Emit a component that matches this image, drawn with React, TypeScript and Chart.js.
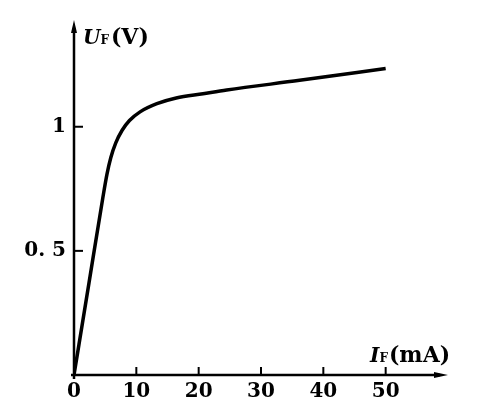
import React, { useEffect, useRef } from "react";
import { Chart, registerables } from "chart.js";

Chart.register(...registerables);

// Forward current I_F (mA) and forward voltage U_F (V)
const currentMA = [0, 2.4, 4.6, 5.3, 5.9, 6.7, 7.7, 8.9, 10.6, 13.3, 16.4, 20.7, 24.5, 36.2, 50];
const voltageV = [0, 0.37, 0.71, 0.81, 0.875, 0.935, 0.985, 1.025, 1.06, 1.093, 1.116, 1.133, 1.148, 1.187, 1.235];

const xTickValues = [0, 10, 20, 30, 40, 50];
const yTickValues = [0.5, 1];
const yTickLabels = ["0. 5", "1"];

const SERIF = '"DejaVu Serif", "Liberation Serif", serif';

const axesPlugin = {
  id: "customAxes",
  afterDraw(chart: any) {
    const ctx = chart.ctx;
    const xs = chart.scales.x;
    const ys = chart.scales.y;
    const x0 = xs.getPixelForValue(0);
    const y0 = ys.getPixelForValue(0);
    const xEnd = chart.chartArea.right;
    const yTop = chart.chartArea.top;
    ctx.save();
    ctx.strokeStyle = "#000";
    ctx.fillStyle = "#000";
    ctx.lineWidth = 2.5;
    ctx.lineCap = "butt";
    // y axis
    ctx.beginPath();
    ctx.moveTo(x0, y0 + 4);
    ctx.lineTo(x0, yTop + 8);
    ctx.stroke();
    ctx.beginPath();
    ctx.moveTo(x0, yTop);
    ctx.lineTo(x0 - 3, yTop + 13);
    ctx.lineTo(x0 + 3, yTop + 13);
    ctx.closePath();
    ctx.fill();
    // x axis
    ctx.beginPath();
    ctx.moveTo(x0 - 3, y0);
    ctx.lineTo(xEnd - 8, y0);
    ctx.stroke();
    ctx.beginPath();
    ctx.moveTo(xEnd, y0);
    ctx.lineTo(xEnd - 14, y0 - 3);
    ctx.lineTo(xEnd - 14, y0 + 3);
    ctx.closePath();
    ctx.fill();
    // ticks
    ctx.lineWidth = 2;
    xTickValues.forEach((v) => {
      if (v === 0) return;
      const px = xs.getPixelForValue(v);
      ctx.beginPath();
      ctx.moveTo(px, y0);
      ctx.lineTo(px, y0 - 8);
      ctx.stroke();
    });
    yTickValues.forEach((v) => {
      const py = ys.getPixelForValue(v);
      ctx.beginPath();
      ctx.moveTo(x0, py);
      ctx.lineTo(x0 + 9, py);
      ctx.stroke();
    });
    // axis titles
    ctx.textBaseline = "alphabetic";
    ctx.textAlign = "left";
    let bx = x0 + 9;
    let by = yTop + 24;
    ctx.font = `italic bold 20px ${SERIF}`;
    ctx.fillText("U", bx, by);
    bx += ctx.measureText("U").width;
    ctx.font = `bold 12px ${SERIF}`;
    ctx.fillText("F", bx, by);
    bx += ctx.measureText("F").width + 2;
    ctx.font = `bold 22px ${SERIF}`;
    ctx.fillText("(V)", bx, by);

    bx = xs.getPixelForValue(47.5);
    by = y0 - 13;
    ctx.font = `italic bold 20px ${SERIF}`;
    ctx.fillText("I", bx, by);
    bx += ctx.measureText("I").width;
    ctx.font = `bold 12px ${SERIF}`;
    ctx.fillText("F", bx, by);
    bx += ctx.measureText("F").width + 1;
    ctx.font = `bold 22px ${SERIF}`;
    ctx.fillText("(mA)", bx, by);
    ctx.restore();
  },
};

export default function App() {
  const canvasRef = useRef<HTMLCanvasElement | null>(null);

  useEffect(() => {
    if (!canvasRef.current) return;
    const chart = new Chart(canvasRef.current, {
      type: "line",
      data: {
        datasets: [
          {
            data: currentMA.map((x, i) => ({ x, y: voltageV[i] })),
            borderColor: "#000",
            borderWidth: 3.5,
            pointRadius: 0,
            fill: false,
            cubicInterpolationMode: "monotone",
          },
        ],
      },
      options: {
        animation: false,
        responsive: true,
        maintainAspectRatio: false,
        layout: { padding: { left: 0, top: 18, right: 34, bottom: 0 } },
        plugins: { legend: { display: false }, tooltip: { enabled: false } },
        scales: {
          x: {
            type: "linear",
            min: 0,
            max: 60,
            border: { display: false },
            grid: { display: false, drawTicks: false },
            afterBuildTicks: (scale: any) => {
              scale.ticks = xTickValues.map((v) => ({ value: v }));
            },
            afterFit: (scale: any) => {
              scale.height = 45;
            },
            ticks: {
              color: "#000",
              padding: 5,
              maxRotation: 0,
              autoSkip: false,
              font: { family: SERIF, size: 20, weight: "bold" },
              callback: (v: any) => String(v),
            },
          },
          y: {
            type: "linear",
            min: 0,
            max: 1.43,
            border: { display: false },
            grid: { display: false, drawTicks: false },
            afterBuildTicks: (scale: any) => {
              scale.ticks = yTickValues.map((v) => ({ value: v }));
            },
            afterFit: (scale: any) => {
              scale.width = 74;
            },
            ticks: {
              color: "#000",
              padding: 8,
              autoSkip: false,
              font: { family: SERIF, size: 20, weight: "bold" },
              callback: (v: any) => {
                const i = yTickValues.indexOf(Number(v));
                return i >= 0 ? yTickLabels[i] : "";
              },
            },
          },
        },
      },
      plugins: [axesPlugin],
    } as any);
    return () => chart.destroy();
  }, []);

  return (
    <div style={{ position: "absolute", left: 0, top: 0, width: 482, height: 420, background: "#fff" }}>
      <canvas ref={canvasRef} />
    </div>
  );
}
